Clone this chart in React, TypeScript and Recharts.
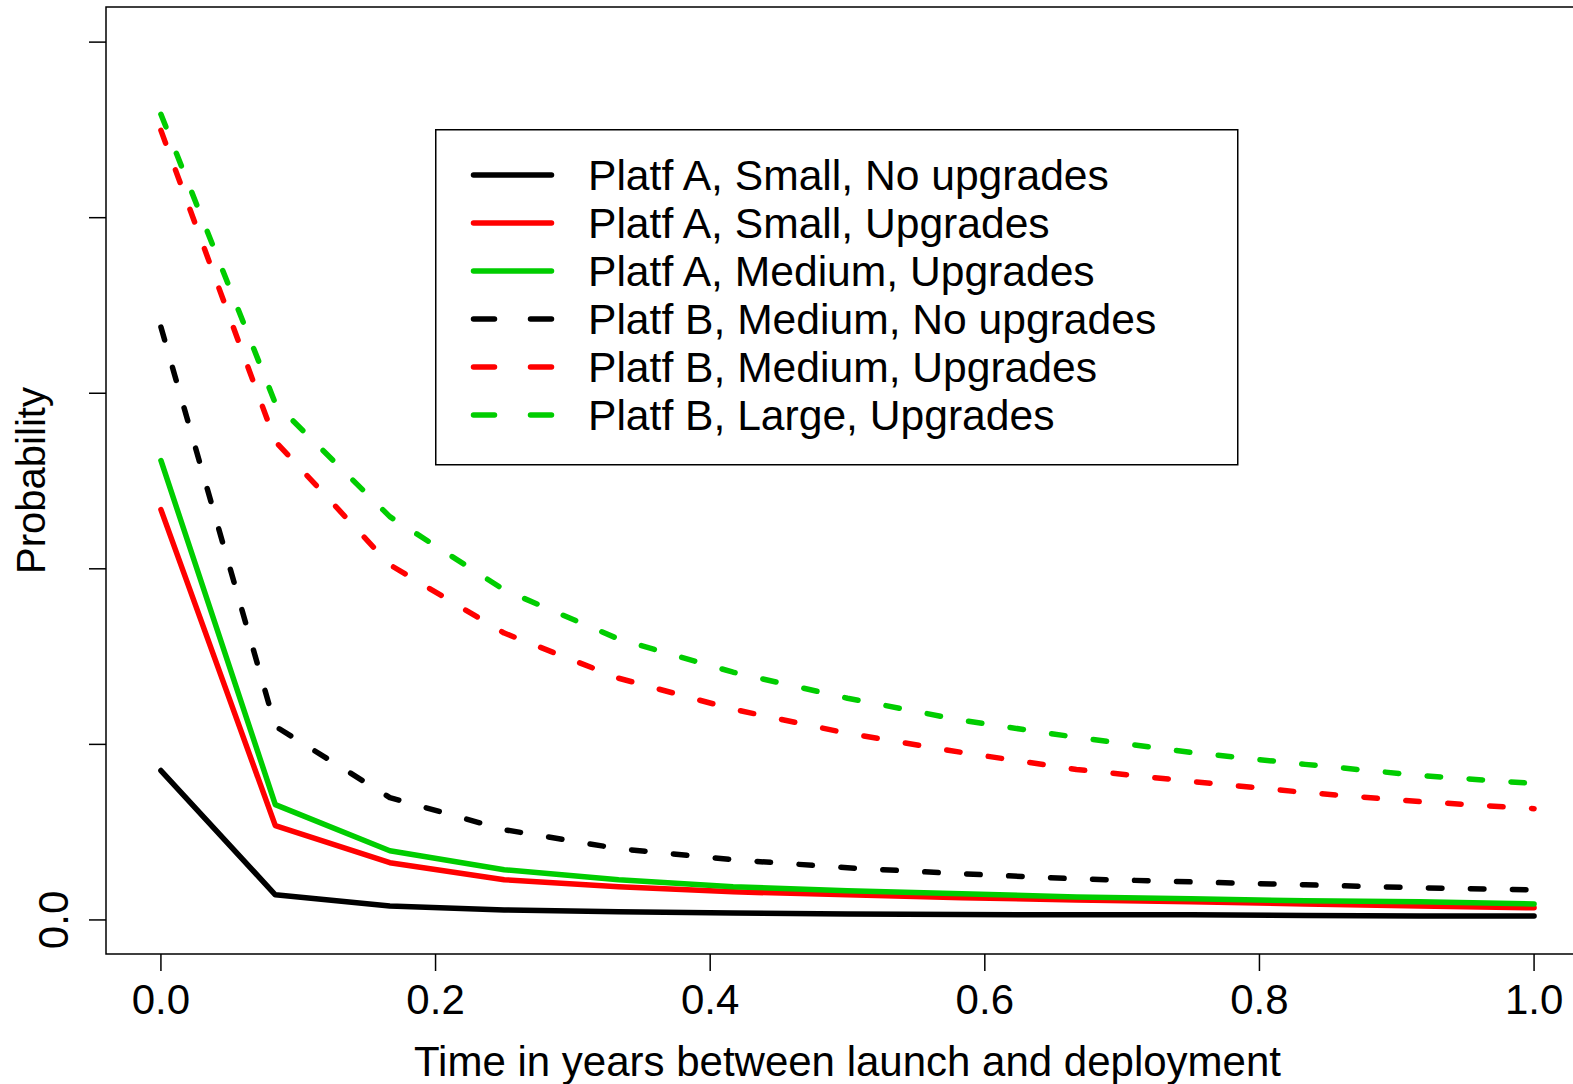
import { LineChart, Line, XAxis, YAxis, Legend, ReferenceArea } from 'recharts'

// time in years (monthly steps)
const times = [0, 0.0833, 0.1667, 0.25, 0.3333, 0.4167, 0.5, 0.5833, 0.6667, 0.75, 0.8333, 0.9167, 1]

const aSmallNoUpg = [0.0851, 0.0143, 0.008, 0.0057, 0.0046, 0.004, 0.0034, 0.0031, 0.0029, 0.0029, 0.0026, 0.0023, 0.0023]
const aSmallUpg = [0.2337, 0.0537, 0.0326, 0.0229, 0.0189, 0.016, 0.0143, 0.0126, 0.0114, 0.0103, 0.0091, 0.008, 0.0069]
const aMediumUpg = [0.2617, 0.0657, 0.0394, 0.0286, 0.0229, 0.0189, 0.0166, 0.0149, 0.0131, 0.012, 0.0109, 0.0103, 0.0091]
const bMediumNoUpg = [0.3377, 0.1103, 0.0697, 0.0514, 0.0406, 0.0343, 0.0297, 0.0263, 0.0234, 0.0217, 0.02, 0.0183, 0.0171]
const bMediumUpg = [0.4497, 0.2726, 0.2023, 0.1634, 0.1377, 0.12, 0.1063, 0.0954, 0.0857, 0.0789, 0.0726, 0.0674, 0.0634]
const bLargeUpg = [0.4589, 0.2943, 0.2297, 0.188, 0.16, 0.1411, 0.1263, 0.1137, 0.104, 0.0954, 0.0886, 0.0823, 0.0777]

const xTicks = [0, 0.2, 0.4, 0.6, 0.8, 1]
const yTicks = [0, 0.1, 0.2, 0.3, 0.4, 0.5]

const FONT = '"Liberation Sans", Arial, sans-serif'
const GREEN = '#00CD00'
const RED = '#FF0000'

const series = [
  { key: 'aSmallNoUpg', name: 'Platf A, Small, No upgrades', color: '#000000', dashed: false, values: aSmallNoUpg },
  { key: 'aSmallUpg', name: 'Platf A, Small, Upgrades', color: RED, dashed: false, values: aSmallUpg },
  { key: 'aMediumUpg', name: 'Platf A, Medium, Upgrades', color: GREEN, dashed: false, values: aMediumUpg },
  { key: 'bMediumNoUpg', name: 'Platf B, Medium, No upgrades', color: '#000000', dashed: true, values: bMediumNoUpg },
  { key: 'bMediumUpg', name: 'Platf B, Medium, Upgrades', color: RED, dashed: true, values: bMediumUpg },
  { key: 'bLargeUpg', name: 'Platf B, Large, Upgrades', color: GREEN, dashed: true, values: bLargeUpg }
]

const data = times.map((t, i) => {
  const row: Record<string, number> = { t }
  series.forEach((s) => {
    row[s.key] = s.values[i]
  })
  return row
})

function YTick(props: any) {
  const { y, payload } = props
  if (payload.value !== 0) return <g />
  return (
    <text
      x={68}
      y={y}
      transform={`rotate(-90, 68, ${y})`}
      textAnchor="middle"
      fontSize={42}
      fontFamily={FONT}
      fill="#000"
    >
      0.0
    </text>
  )
}

function YLabel(props: any) {
  const vb = props.viewBox || { x: 0, y: 7, width: 106, height: 947 }
  const cy = vb.y + vb.height / 2
  return (
    <text
      x={45}
      y={cy}
      transform={`rotate(-90, 45, ${cy})`}
      textAnchor="middle"
      fontSize={40}
      fontFamily={FONT}
      fill="#000"
    >
      Probability
    </text>
  )
}

function LegendBox() {
  return (
    <svg width={804} height={337} style={{ display: 'block' }}>
      <rect x={0.75} y={0.75} width={802} height={335} fill="#fff" stroke="#000" strokeWidth={1.5} />
      {series.map((s, i) => {
        const cy = 46 + i * 48
        return (
          <g key={s.key}>
            <line
              x1={38.5}
              x2={116.5}
              y1={cy}
              y2={cy}
              stroke={s.color}
              strokeWidth={5.5}
              strokeLinecap="round"
              strokeDasharray={s.dashed ? '21 36' : undefined}
            />
            <text x={153} y={cy + 15} fontSize={42.6} fontFamily={FONT} fill="#000">
              {s.name}
            </text>
          </g>
        )
      })}
    </svg>
  )
}

export default function App() {
  return (
    <div
      style={{
        position: 'absolute',
        left: 0,
        top: 0,
        width: 1573,
        height: 1084,
        overflow: 'hidden',
        background: '#fff'
      }}
    >
      <LineChart width={1600} height={1084} data={data} margin={{ top: 7, right: 11, bottom: 0, left: 0 }}>
        <XAxis
          type="number"
          dataKey="t"
          domain={[-0.04, 1.04]}
          ticks={xTicks}
          interval={0}
          tickFormatter={(v: number) => v.toFixed(1)}
          height={130}
          tickSize={17}
          tickMargin={13}
          axisLine={false}
          tickLine={{ stroke: '#000', strokeWidth: 1.5 }}
          tick={{ fontSize: 42, fontFamily: FONT, fill: '#000' }}
          label={{
            value: 'Time in years between launch and deployment',
            position: 'insideBottom',
            offset: 8,
            fontSize: 42,
            fontFamily: FONT,
            fill: '#000'
          }}
        />
        <YAxis
          type="number"
          domain={[-0.0194, 0.52]}
          ticks={yTicks}
          interval={0}
          width={106}
          tickSize={17}
          axisLine={false}
          tickLine={{ stroke: '#000', strokeWidth: 1.5 }}
          tick={<YTick />}
          label={<YLabel />}
        />
        <ReferenceArea
          x1={-0.04}
          x2={1.04}
          y1={-0.0194}
          y2={0.52}
          fill="none"
          fillOpacity={0}
          stroke="#000"
          strokeWidth={1.5}
          ifOverflow="visible"
        />
        {series.map((s) => (
          <Line
            key={s.key}
            type="linear"
            dataKey={s.key}
            name={s.name}
            stroke={s.color}
            strokeWidth={5.5}
            strokeLinecap="round"
            strokeLinejoin="round"
            strokeDasharray={s.dashed ? '13.5 28.5' : undefined}
            dot={false}
            activeDot={false}
            isAnimationActive={false}
          />
        ))}
        <Legend
          layout="vertical"
          align="center"
          verticalAlign="middle"
          content={() => <LegendBox />}
          wrapperStyle={{ position: 'absolute', left: 435, top: 129, width: 804, height: 337 }}
        />
      </LineChart>
    </div>
  )
}
